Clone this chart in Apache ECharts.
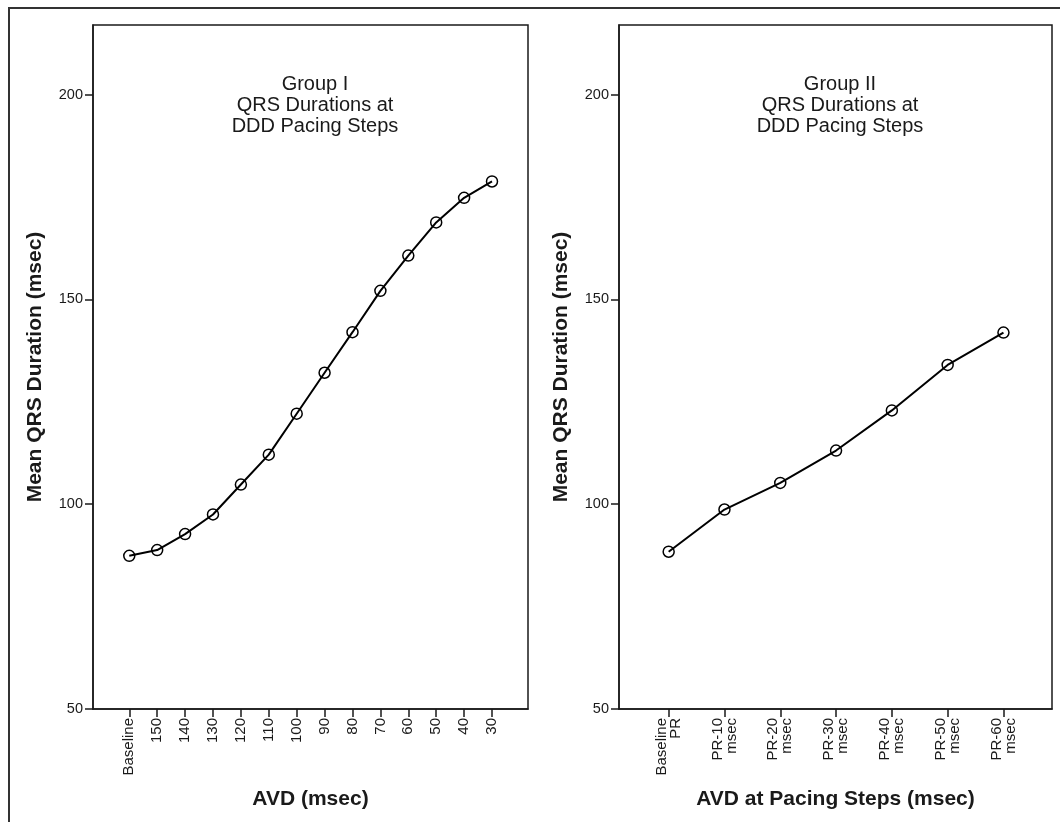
<!DOCTYPE html>
<html>
<head>
<meta charset="utf-8">
<script src="https://cdn.jsdelivr.net/npm/echarts@6/dist/echarts.min.js"></script>
<style>
  html, body { margin: 0; padding: 0; background: #fff; }
  #chart { width: 1060px; height: 822px; }
</style>
</head>
<body>
<div id="chart"></div>
<script>
// ---- Data ----
const group1Categories = ['Baseline', '150', '140', '130', '120', '110', '100', '90', '80', '70', '60', '50', '40', '30'];
const group1Values = [87.4, 88.8, 92.7, 97.5, 104.8, 112.1, 122.1, 132.1, 142.0, 152.1, 160.7, 168.8, 174.8, 178.8];

const group2Categories = ['Baseline\nPR', 'PR-10\nmsec', 'PR-20\nmsec', 'PR-30\nmsec', 'PR-40\nmsec', 'PR-50\nmsec', 'PR-60\nmsec'];
const group2Values = [88.4, 98.7, 105.2, 113.1, 122.9, 134.0, 141.9];

const yTicks = [50, 100, 150, 200];

const titles = ['Group I\nQRS Durations at\nDDD Pacing Steps', 'Group II\nQRS Durations at\nDDD Pacing Steps'];
const xTitles = ['AVD (msec)', 'AVD at Pacing Steps (msec)'];
const yTitle = 'Mean QRS Duration (msec)';

// ---- Chart ----
const FONT = '"Liberation Sans", Arial, Helvetica, sans-serif';
const INK = '#1a1a1a';
const chart = echarts.init(document.getElementById('chart'), null, { renderer: 'canvas' });

function idx(n) { return Array.from({ length: n }, (_, i) => i); }

function xAxisFor(cats, gridIndex, min, max, name) {
  const ticks = idx(cats.length);
  return {
    type: 'value', gridIndex, min, max,
    name, nameLocation: 'middle', nameGap: 80,
    nameTextStyle: { fontFamily: FONT, fontSize: 21, fontWeight: 'bold', color: INK },
    axisLine: { show: true, onZero: false, lineStyle: { color: INK, width: 1.5 } },
    axisTick: { show: true, length: 8, customValues: ticks, lineStyle: { color: INK, width: 1.5 } },
    axisLabel: {
      customValues: ticks, rotate: 90, margin: 9,
      fontFamily: FONT, fontSize: 15, color: INK, lineHeight: 14,
      formatter: v => cats[Math.round(v)] || ''
    },
    splitLine: { show: false }
  };
}

function yAxisFor(gridIndex) {
  return {
    type: 'value', gridIndex, min: 50, max: 217, interval: 50,
    name: yTitle, nameLocation: 'middle', nameGap: 47,
    nameTextStyle: { fontFamily: FONT, fontSize: 21, fontWeight: 'bold', color: INK },
    axisLine: { show: true, onZero: false, lineStyle: { color: INK, width: 1.5 } },
    axisTick: { show: true, length: 8, customValues: yTicks, lineStyle: { color: INK, width: 1.5 } },
    axisLabel: { customValues: yTicks, margin: 10, fontFamily: FONT, fontSize: 14.5, color: INK },
    splitLine: { show: false }
  };
}

function seriesFor(values, i) {
  return {
    type: 'line', xAxisIndex: i, yAxisIndex: i,
    data: values.map((v, k) => [k, v]),
    symbol: 'circle', symbolSize: 11,
    lineStyle: { color: '#000', width: 2 },
    itemStyle: { color: 'rgba(0,0,0,0)', borderColor: '#000', borderWidth: 1.5 },
    emphasis: { disabled: true },
    z: 3
  };
}

const option = {
  backgroundColor: '#fff',
  animation: false,
  title: [
    { text: titles[0], left: 310, top: 69, textAlign: 'center',
      textStyle: { fontFamily: FONT, fontSize: 20, fontWeight: 'normal', color: INK, lineHeight: 21 } },
    { text: titles[1], left: 835, top: 69, textAlign: 'center',
      textStyle: { fontFamily: FONT, fontSize: 20, fontWeight: 'normal', color: INK, lineHeight: 21 } }
  ],
  graphic: [
    { type: 'rect', shape: { x: 9, y: 8, width: 1200, height: 1000 },
      style: { fill: 'none', stroke: '#333', lineWidth: 2 }, silent: true }
  ],
  grid: [
    { left: 93, top: 25, width: 435, height: 684, show: true, borderColor: INK, borderWidth: 1.5, backgroundColor: 'transparent' },
    { left: 619, top: 25, width: 433, height: 684, show: true, borderColor: INK, borderWidth: 1.5, backgroundColor: 'transparent' }
  ],
  xAxis: [
    xAxisFor(group1Categories, 0, -1.3, 14.29, xTitles[0]),
    xAxisFor(group2Categories, 1, -0.89, 6.87, xTitles[1])
  ],
  yAxis: [yAxisFor(0), yAxisFor(1)],
  series: [seriesFor(group1Values, 0), seriesFor(group2Values, 1)]
};

chart.setOption(option);
</script>
</body>
</html>
